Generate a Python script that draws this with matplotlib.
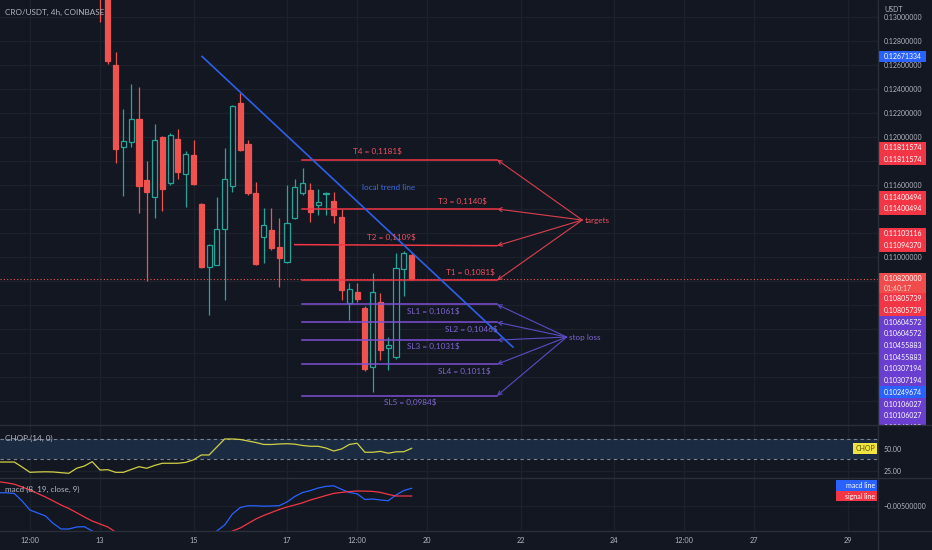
import numpy as np
import matplotlib
matplotlib.use('Agg')
import matplotlib.pyplot as plt
from matplotlib.patches import Rectangle
import matplotlib.transforms as mtransforms
from matplotlib.ticker import FuncFormatter

plt.rcParams['font.family'] = ['Lato', 'DejaVu Sans']

# 4h candles, index 0 = day 13 00:00
opens = [0.1345, 0.1322, 0.12598, 0.11914, 0.11961, 0.12150, 0.11642, 0.11503, 0.12000, 0.11617,
         0.11983, 0.11692, 0.11850, 0.11442, 0.10917, 0.10933, 0.11233, 0.11592, 0.12286, 0.11942,
         0.11536, 0.11167, 0.11225, 0.11086, 0.10961, 0.11325, 0.11531, 0.11558, 0.11433, 0.11525,
         0.11467, 0.11336, 0.10619, 0.10706, 0.10578, 0.10081, 0.10622, 0.10239, 0.10164, 0.10897,
         0.11017]
highs = [0.1350, 0.1325, 0.12708, 0.12233, 0.12442, 0.12417, 0.11800, 0.12108, 0.12010, 0.12030,
         0.12067, 0.11883, 0.11975, 0.11450, 0.11110, 0.11500, 0.11908, 0.12270, 0.12369, 0.11975,
         0.11628, 0.11408, 0.11408, 0.11325, 0.11600, 0.11653, 0.11739, 0.11617, 0.11567, 0.11540,
         0.11544, 0.11397, 0.10780, 0.10780, 0.10590, 0.10864, 0.10703, 0.10336, 0.11036, 0.11050,
         0.11030]
lows = [0.12958, 0.12608, 0.11783, 0.11511, 0.11919, 0.11367, 0.10800, 0.11325, 0.11383, 0.11600,
        0.11650, 0.11419, 0.11600, 0.10910, 0.10517, 0.10930, 0.10642, 0.11542, 0.11880, 0.11520,
        0.10930, 0.10953, 0.11060, 0.10750, 0.10950, 0.11320, 0.11520, 0.11292, 0.11350, 0.11350,
        0.11281, 0.10642, 0.10475, 0.10628, 0.10050, 0.09878, 0.10142, 0.10058, 0.10150, 0.10678,
        0.10810]
closes = [0.1322, 0.12633, 0.11900, 0.11967, 0.12150, 0.11594, 0.11542, 0.11975, 0.11567, 0.12017,
          0.11711, 0.11858, 0.11611, 0.10919, 0.11100, 0.11233, 0.11650, 0.12258, 0.11892, 0.11533,
          0.10942, 0.11267, 0.11075, 0.10989, 0.11283, 0.11583, 0.11614, 0.11372, 0.11461, 0.11533,
          0.11350, 0.10725, 0.10731, 0.10650, 0.10067, 0.10706, 0.10225, 0.10267, 0.10906, 0.11036,
          0.10820]
countdown = '01:40:17'

# indicator values, candle index -13 .. 40
ind_idx = list(range(-13, 41))
chop = [35.2, 35.2, 35.2, 29.5, 23.5, 23.9, 24.1, 23.9, 23.1, 22.4, 28.1, 30.7, 35.6, 26.1, 26.5,
        23.5, 23.5, 26.7, 29.9, 28.1, 31.3, 33.8, 33.8, 33.8, 34.8, 37.7, 43.2, 43.2, 52.3, 61.4,
        61.4, 60.8, 59.1, 57.4, 55.2, 55.1, 55.7, 56.0, 55.5, 54.0, 53.1, 53.1, 51.1, 47.7, 50.0,
        55.1, 56.6, 46.3, 46.3, 47.3, 45.2, 46.8, 46.9, 50.8]
macd_line = [-0.00367, -0.00368, -0.00375, -0.0045, -0.0054, -0.0057, -0.0060, -0.00675, -0.0073,
             -0.0073, -0.0071, -0.00707, -0.0075, -0.0078, -0.0082, -0.0086, -0.0088, -0.0090,
             -0.0091, -0.0090, -0.0089, -0.0088, -0.0087, -0.0086, -0.0085, -0.0083, -0.0080,
             -0.0078, -0.0075, -0.0069, -0.0058, -0.00515, -0.00498, -0.00498, -0.00502, -0.0050,
             -0.00497, -0.0046, -0.00405, -0.00365, -0.00346, -0.0032, -0.00304, -0.00298,
             -0.00333, -0.00365, -0.00378, -0.00435, -0.0043, -0.0044, -0.00447, -0.0039,
             -0.00345, -0.00323]
signal_line = [-0.00257, -0.00268, -0.00282, -0.0031, -0.0034, -0.00375, -0.0041, -0.0045, -0.0049,
               -0.00525, -0.00567, -0.0061, -0.0065, -0.0068, -0.0071, -0.0076, -0.0078, -0.0080,
               -0.0082, -0.0083, -0.0084, -0.0085, -0.0086, -0.0086, -0.0086, -0.0085, -0.0084,
               -0.0083, -0.0081, -0.0079, -0.0075, -0.0072, -0.00675, -0.0063, -0.00595, -0.00565,
               -0.00535, -0.0051, -0.0049, -0.00468, -0.0044, -0.00418, -0.00395, -0.00374,
               -0.00364, -0.00356, -0.0035, -0.00351, -0.00354, -0.00364, -0.00384, -0.0040,
               -0.0040, -0.0040]

time_ticks = [-9, 0, 12, 24, 33, 42, 54, 66, 75, 84, 96]
time_labels = ['12:00', '13', '15', '17', '12:00', '20', '22', '24', '12:00', '27', '29']

# drawings
trend_x = [13.1, 53.0]
trend_y = [0.12671334, 0.10249674]
level_x0 = [25.9, 25.9, 25.0, 25.9]
level_x1 = 50.96
target_left = [0.11811574, 0.11400494, 0.11103116, 0.10805739]
target_right = [0.11811574, 0.11400494, 0.11094370, 0.10805739]
target_texts = ['T4 = 0,1181$', 'T3 = 0,1140$', 'T2 = 0,1109$', 'T1 = 0,1081$']
target_text_x = [35.6, 46.5, 37.4, 47.5]
stop_prices = [0.10604572, 0.10455883, 0.10307194, 0.10106027, 0.09843635]
stop_texts = ['SL1 = 0,1061$', 'SL2 = 0,1046$', 'SL3 = 0,1031$', 'SL4 = 0,1011$', 'SL5 = 0,0984$']
stop_text_x = [42.8, 47.7, 42.8, 46.8, 39.8]
targets_hub = (61.9, 0.11308)
stops_hub = (59.9, 0.10333)

BG = '#131722'
GRID = '#1d212c'
SEP = '#2a2e39'
TXT = '#b2b5be'
UP = '#26a69a'
DN = '#ef5350'
RED = '#f23645'
REDTXT = '#f0505e'
PURP = '#7e4fd6'
PURPTXT = '#7f66d0'
PURPBOX = '#6a3fd0'
BLUE = '#2f5fe8'
FS = 5.9     # annotation / title text
AFS = 5.0    # scale text

W, H = 932, 550
fig = plt.figure(figsize=(W / 100, H / 100), dpi=100, facecolor=BG)


def px_axes(x0, y0, x1, y1):
    a = fig.add_axes([x0 / W, 1 - y1 / H, (x1 - x0) / W, (y1 - y0) / H])
    a.set_facecolor(BG)
    for s in a.spines.values():
        s.set_visible(False)
    return a


XLIM = (-12.84, 99.87)
ax = px_axes(0, 0, 878, 425)
ax_c = px_axes(0, 425, 878, 478)
ax_m = px_axes(0, 478, 878, 531)
ax_p = px_axes(878, 0, 932, 425)
ax_p.patch.set_alpha(0)

YLIM = (0.096, 0.131417)
ax.set_ylim(*YLIM)
for a in (ax, ax_c, ax_m):
    a.set_xlim(*XLIM)
    a.set_xticks(time_ticks)
    a.grid(True, color=GRID, lw=0.9)
    a.set_axisbelow(True)
    a.yaxis.tick_right()
    a.tick_params(axis='y', length=0, pad=4.3, labelsize=AFS, colors=TXT)
    a.tick_params(axis='x', length=0)
ax.set_xticklabels([])
ax_c.set_xticklabels([])
ax_m.set_xticklabels(time_labels)
ax_m.tick_params(axis='x', pad=4.5, labelsize=AFS + 0.3, colors=TXT)

# candles
for k in range(len(opens)):
    o, h, l, c = opens[k], highs[k], lows[k], closes[k]
    lo, hi = min(o, c), max(o, c)
    up = c >= o
    col = UP if up else DN
    ax.vlines(k, l, lo, color=col, lw=0.9, zorder=3)
    ax.vlines(k, hi, h, color=col, lw=0.9, zorder=3)
    ax.add_patch(Rectangle((k - 0.33, lo), 0.66, max(hi - lo, 0.00006),
                           facecolor=BG if up else col, edgecolor=col, lw=0.9, zorder=4))

# current price line
ax.axhline(closes[-1], color=DN, lw=0.8, ls=(0, (1, 2)), zorder=2)

# trend line
ax.plot(trend_x, trend_y, color=BLUE, lw=1.2, zorder=6)
ax.text(37.0, 0.11578, 'local trend line', color='#3b6be0', fontsize=FS, ha='center', va='center', zorder=7)

# targets
for i in range(len(target_texts)):
    ax.plot([level_x0[i], level_x1], [target_left[i], target_right[i]], color=RED, lw=1.1, zorder=5)
    ax.annotate(target_texts[i], xy=(target_text_x[i], target_right[i]), xytext=(0, 5.8),
                textcoords='offset points', color=REDTXT, fontsize=FS, ha='center', va='center', zorder=7)
    ax.annotate('', xy=(level_x1, target_right[i]), xytext=targets_hub,
                arrowprops=dict(arrowstyle='->', color='#d8404f', lw=0.8, shrinkA=0, shrinkB=0,
                                mutation_scale=7), zorder=5)
ax.annotate('targets', xy=targets_hub, xytext=(2, 0), textcoords='offset points',
            color=REDTXT, fontsize=FS, va='center', ha='left', zorder=8)

# stop losses
for i in range(len(stop_texts)):
    ax.plot([25.9, level_x1], [stop_prices[i], stop_prices[i]], color=PURP, lw=1.1, zorder=5)
    ax.annotate(stop_texts[i], xy=(stop_text_x[i], stop_prices[i]), xytext=(0, -4.7),
                textcoords='offset points', color=PURPTXT, fontsize=FS, ha='center', va='center', zorder=7)
    ax.annotate('', xy=(level_x1, stop_prices[i]), xytext=stops_hub,
                arrowprops=dict(arrowstyle='->', color='#5b4cc4', lw=0.8, shrinkA=0, shrinkB=0,
                                mutation_scale=7), zorder=5)
ax.annotate('stop loss', xy=stops_hub, xytext=(2, 0), textcoords='offset points',
            color=PURPTXT, fontsize=FS, va='center', ha='left', zorder=8)

# price scale labels (stacked like the trading view scale)
fmt = lambda v: f'{v:.8f}'
blocks = [(trend_y[0], [fmt(trend_y[0])], '#2962ff', 0),
          (trend_y[1], [fmt(trend_y[1])], '#2962ff', 0),
          (closes[-1], [fmt(closes[-1]), countdown], '#f04c4c', 0)]
for i in range(len(target_texts)):
    blocks.append((target_right[i], [fmt(target_left[i]), fmt(target_right[i])], RED, 1))
for p in stop_prices:
    blocks.append((p, [fmt(p), fmt(p)], PURPBOX, 1))
blocks.sort(key=lambda b: -b[0])

ppx = (YLIM[1] - YLIM[0]) / 425
lh = 11.7 * ppx
ax_p.set_xlim(0, 54)
ax_p.set_ylim(*YLIM)
ax_p.axis('off')
prev_bottom = np.inf
covered = []
for price, texts, col, anchor in blocks:
    heights = [lh if t != countdown else 0.72 * lh for t in texts]
    top = min(price + sum(heights[:anchor]) + heights[anchor] / 2, prev_bottom)
    bottom = top - sum(heights)
    covered.append((bottom, top))
    ax_p.add_patch(Rectangle((0, bottom), 48, top - bottom, facecolor=col, lw=0, zorder=3))
    y = top
    for t, hh in zip(texts, heights):
        ax_p.text(5.5, y - hh / 2, t, color='white', alpha=0.75 if t == countdown else 1,
                  fontsize=AFS, va='center', ha='left', zorder=4, clip_on=True)
        y -= hh
    prev_bottom = bottom

# regular price ticks; the ones hidden under a label box are left blank
price_ticks = np.arange(0.098, 0.1305, 0.002)
ax.set_yticks(price_ticks)
ax.set_yticklabels(['' if any(b < v < t for b, t in covered) else fmt(v) for v in price_ticks])

# CHOP pane
ax_c.set_ylim(17.05, 77.27)
ax_c.set_yticks([25, 50])
ax_c.yaxis.set_major_formatter(FuncFormatter(lambda v, p: f'{v:.2f}'))
ax_c.axhspan(38.2, 61.8, color='#1b2b42', lw=0, zorder=1)
for lvl in (61.8, 38.2):
    ax_c.axhline(lvl, color='#7f8494', lw=0.8, ls=(0, (3, 3)), zorder=2)
ax_c.plot(ind_idx, chop, color='#d0d045', lw=0.9, zorder=3)
trc = mtransforms.blended_transform_factory(ax_c.transAxes, ax_c.transData)
ax_c.add_patch(Rectangle((853 / 878, chop[-1] - 6.2), 24 / 878, 12.4, transform=trc,
                         facecolor='#f0e442', lw=0, zorder=5, clip_on=False))
ax_c.text(865 / 878, chop[-1], 'CHOP', transform=trc, color='#55500a', fontsize=AFS,
          ha='center', va='center', zorder=6)

# MACD pane
ax_m.set_ylim(-0.0075, -0.0022)
ax_m.set_yticks([-0.005])
ax_m.yaxis.set_major_formatter(FuncFormatter(lambda v, p: f'{v:.8f}'.replace('-', '\u2212')))
ax_m.plot(ind_idx, macd_line, color='#2962ff', lw=0.9, zorder=3)
ax_m.plot(ind_idx, signal_line, color='#f23645', lw=0.9, zorder=3)
trm = mtransforms.blended_transform_factory(ax_m.transAxes, ax_m.transData)
bh = 0.00105
sig_y = signal_line[-1]
macd_y = max(macd_line[-1], sig_y + bh)
for yv, txt, col in [(macd_y, 'macd line', '#2962ff'), (sig_y, 'signal line', '#f23645')]:
    ax_m.add_patch(Rectangle((836 / 878, yv - bh / 2), 41 / 878, bh, transform=trm,
                             facecolor=col, lw=0, zorder=5))
    ax_m.text(875 / 878, yv, txt, transform=trm, color='white', fontsize=AFS,
              ha='right', va='center', zorder=6)

# pane titles
fig.text(5 / W, 1 - 12 / H, 'CRO/USDT, 4h, COINBASE', color=TXT, fontsize=FS, va='center')
fig.text(5 / W, 1 - 438 / H, 'CHOP (14, 0)', color=TXT, fontsize=FS, va='center')
fig.text(5 / W, 1 - 489 / H, 'macd (8, 19, close, 9)', color=TXT, fontsize=FS, va='center')

# separators and scale header
for yy in (425, 478, 531):
    fig.add_artist(plt.Line2D([0, 1], [1 - yy / H] * 2, color=SEP, lw=1))
fig.add_artist(plt.Line2D([878 / W] * 2, [0, 1], color=SEP, lw=1))
fig.add_artist(Rectangle((879 / W, 1 - 14 / H), 53 / W, 14 / H, transform=fig.transFigure,
                         facecolor=BG, lw=0, zorder=10))
fig.text(884 / W, 1 - 9 / H, 'USDT', color=TXT, fontsize=AFS, va='center', zorder=11)

fig.savefig('out.png', dpi=100, facecolor=BG)
